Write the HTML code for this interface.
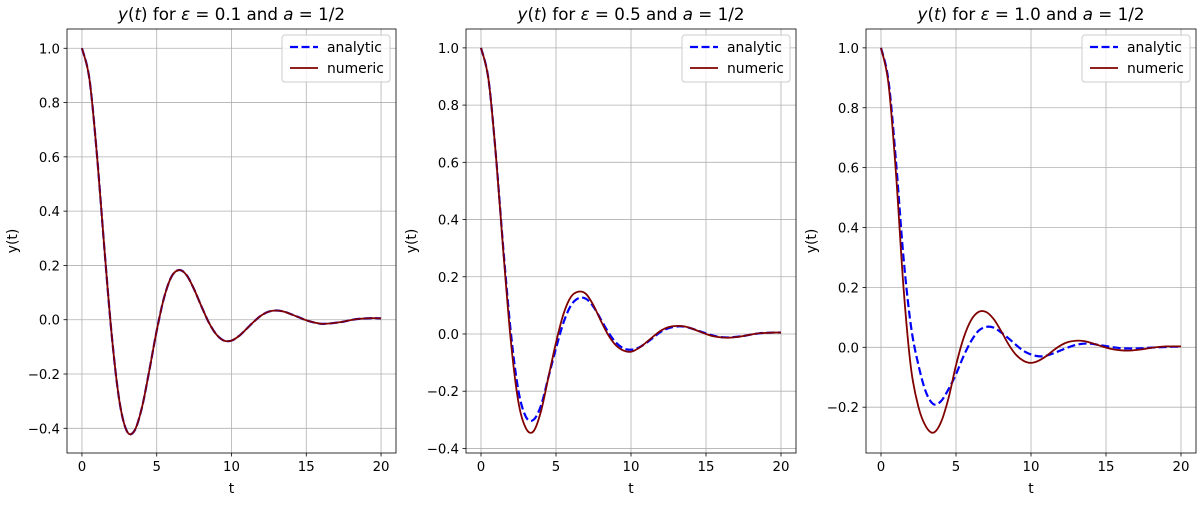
<!DOCTYPE html>
<html><head><meta charset="utf-8"><style>
body{margin:0;background:#fff;}
svg text{font-family:"DejaVu Sans","Liberation Sans",sans-serif;fill:#000;}
</style></head><body>
<svg id="fig" width="1200" height="500" xmlns="http://www.w3.org/2000/svg"></svg>
<script>
const tValues = [0,0.5,1,1.5,2,2.5,3,3.5,4,4.5,5,5.5,6,6.5,7,7.5,8,8.5,9,9.5,10,10.5,11,11.5,12,12.5,13,13.5,14,14.5,15,15.5,16,16.5,17,17.5,18,18.5,19,19.5,20];
const analytic1 = [1,0.887,0.609,0.262,-0.062,-0.298,-0.41,-0.41,-0.326,-0.188,-0.040,0.083,0.160,0.183,0.164,0.112,0.048,-0.012,-0.055,-0.077,-0.077,-0.060,-0.034,-0.007,0.016,0.030,0.034,0.030,0.020,0.009,-0.002,-0.010,-0.015,-0.014,-0.011,-0.007,-0.001,0.003,0.005,0.006,0.005];
const numeric1 = [1,0.887,0.609,0.262,-0.062,-0.298,-0.41,-0.41,-0.326,-0.188,-0.040,0.083,0.160,0.183,0.164,0.112,0.048,-0.012,-0.055,-0.077,-0.077,-0.060,-0.034,-0.007,0.016,0.030,0.034,0.030,0.020,0.009,-0.002,-0.010,-0.015,-0.014,-0.011,-0.007,-0.001,0.003,0.005,0.006,0.005];
const analytic2 = [1,0.89,0.62,0.29,0.0,-0.20,-0.29,-0.30,-0.25,-0.15,-0.05,0.04,0.10,0.125,0.123,0.095,0.05,0.005,-0.03,-0.05,-0.055,-0.048,-0.032,-0.012,0.008,0.02,0.026,0.026,0.02,0.011,0.002,-0.006,-0.011,-0.012,-0.01,-0.007,-0.002,0.002,0.004,0.005,0.005];
const numeric2 = [1,0.89,0.62,0.28,-0.03,-0.24,-0.33,-0.34,-0.27,-0.15,-0.03,0.07,0.13,0.148,0.14,0.10,0.045,-0.005,-0.04,-0.058,-0.062,-0.05,-0.03,-0.008,0.012,0.024,0.028,0.027,0.02,0.01,0.0,-0.008,-0.012,-0.013,-0.011,-0.007,-0.002,0.002,0.004,0.005,0.005];
const analytic3 = [1,0.89,0.62,0.30,0.07,-0.06,-0.15,-0.19,-0.18,-0.14,-0.09,-0.03,0.02,0.055,0.068,0.066,0.05,0.03,0.008,-0.012,-0.024,-0.03,-0.028,-0.02,-0.01,0.0,0.008,0.012,0.012,0.008,0.004,0.0,-0.003,-0.004,-0.004,-0.003,-0.001,0.0,0.001,0.002,0.002];
const numeric3 = [1,0.88,0.58,0.20,-0.07,-0.20,-0.265,-0.285,-0.25,-0.17,-0.06,0.03,0.09,0.118,0.118,0.095,0.055,0.01,-0.025,-0.045,-0.052,-0.045,-0.03,-0.01,0.007,0.018,0.022,0.021,0.015,0.007,-0.001,-0.007,-0.01,-0.011,-0.009,-0.006,-0.002,0.001,0.003,0.003,0.003];
const xTicks = [0,5,10,15,20];
const yTicks1 = [-0.4,-0.2,0.0,0.2,0.4,0.6,0.8,1.0];
const yTicks2 = [-0.4,-0.2,0.0,0.2,0.4,0.6,0.8,1.0];
const yTicks3 = [-0.2,0.0,0.2,0.4,0.6,0.8,1.0];
const epsLabels = ["0.1","0.5","1.0"];

const NS="http://www.w3.org/2000/svg";
const svg=document.getElementById('fig');
function mk(tag,attrs,parent){const e=document.createElementNS(NS,tag);for(const k in attrs)e.setAttribute(k,attrs[k]);(parent||svg).appendChild(e);return e;}
function smooth(pts){let d=`M${pts[0][0]},${pts[0][1]}`;for(let i=0;i<pts.length-1;i++){const p0=pts[Math.max(0,i-1)],p1=pts[i],p2=pts[i+1],p3=pts[Math.min(pts.length-1,i+2)];
const c1=[p1[0]+(p2[0]-p0[0])/6,p1[1]+(p2[1]-p0[1])/6],c2=[p2[0]-(p3[0]-p1[0])/6,p2[1]-(p3[1]-p1[1])/6];d+=`C${c1[0]},${c1[1]} ${c2[0]},${c2[1]} ${p2[0]},${p2[1]}`;}return d;}

const panels=[
 {L:67,R:396,ymin:-0.491,ymax:1.071,yt:yTicks1,ana:analytic1,num:numeric1},
 {L:466,R:796,ymin:-0.416,ymax:1.066,yt:yTicks2,ana:analytic2,num:numeric2},
 {L:866,R:1196,ymin:-0.353,ymax:1.063,yt:yTicks3,ana:analytic3,num:numeric3}];
const T=29,B=453;
panels.forEach((p,pi)=>{
 const g=mk('g',{});
 
 
 const xs=v=>p.L+(v+1)/(22)*(p.R-p.L);
 const ys=v=>B-(v-p.ymin)/(p.ymax-p.ymin)*(B-T);
 xTicks.forEach(v=>{
  const x=xs(v);
  const gl=mk('line',{x1:x,x2:x,y1:T,y2:B,stroke:'#b0b0b0','stroke-width':0.8},g);
  
  
  mk('line',{x1:x,x2:x,y1:B,y2:B+3.5,stroke:'#000','stroke-width':0.8},g);
  const t=mk('text',{x:x,y:B+18,'text-anchor':'middle','font-size':13.3},g);t.textContent=v;
  
  
 });
 p.yt.forEach(v=>{
  const y=ys(v);
  const gl=mk('line',{x1:p.L,x2:p.R,y1:y,y2:y,stroke:'#b0b0b0','stroke-width':0.8},g);
  
  
  mk('line',{x1:p.L-3.5,x2:p.L,y1:y,y2:y,stroke:'#000','stroke-width':0.8},g);
  const t=mk('text',{x:p.L-7,y:y+5,'text-anchor':'end','font-size':13.3},g);t.textContent=(v<0?'\u2212':'')+Math.abs(v).toFixed(1);
  
  
 });
 const ptsA=tValues.map((t,i)=>[xs(t),ys(p.ana[i])]);
 const ptsN=tValues.map((t,i)=>[xs(t),ys(p.num[i])]);
 const la=mk('path',{d:smooth(ptsA),fill:'none',stroke:'#0000ff','stroke-width':2.2,'stroke-dasharray':'8,3.5'},g);
 
 
 const ln=mk('path',{d:smooth(ptsN),fill:'none',stroke:'#800000','stroke-width':1.8},g);
 
 
 const fr=mk('rect',{x:p.L,y:T,width:p.R-p.L,height:B-T,fill:'none',stroke:'#000','stroke-width':0.8},g);
 
 
 const cx=(p.L+p.R)/2;
 const tt=mk('text',{x:cx,y:20,'text-anchor':'middle','font-size':16.7},g);
 tt.innerHTML=`<tspan font-style="italic">y</tspan>(<tspan font-style="italic">t</tspan>) for <tspan font-style="italic">ε</tspan> = ${epsLabels[pi]} and <tspan font-style="italic">a</tspan> = 1/2`;
 
 
 const xl=mk('text',{x:cx,y:493,'text-anchor':'middle','font-size':13.9},g);xl.textContent='t';
 
 
 const yl=mk('text',{x:0,y:0,'text-anchor':'middle','font-size':13.9,transform:`translate(${p.L-50},${(T+B)/2}) rotate(-90)`},g);yl.textContent='y(t)';
 
 
 const lg=mk('g',{},g);
 
 
 const lx=p.R-114;
 mk('rect',{x:lx,y:35,width:108,height:47,rx:3,fill:'#fff','fill-opacity':0.8,stroke:'#cccccc','stroke-width':1},lg);
 mk('line',{x1:lx+8,x2:lx+36,y1:47,y2:47,stroke:'#0000ff','stroke-width':2.2,'stroke-dasharray':'8,3.5'},lg);
 const t1=mk('text',{x:lx+45,y:52,'font-size':13.9},lg);t1.textContent='analytic';
 
 
 mk('line',{x1:lx+8,x2:lx+36,y1:68,y2:68,stroke:'#800000','stroke-width':1.8},lg);
 const t2=mk('text',{x:lx+45,y:73,'font-size':13.9},lg);t2.textContent='numeric';
 
 
});
</script>
</body></html>
